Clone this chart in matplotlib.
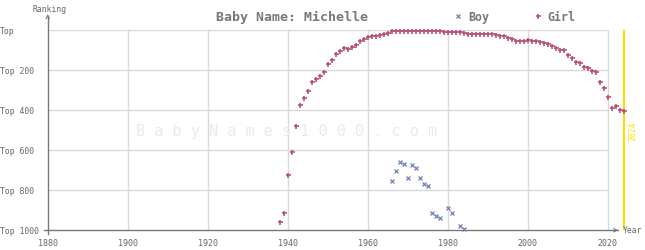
import matplotlib

matplotlib.use("Agg")
import matplotlib.pyplot as plt  # noqa: E402

# --- data (rank per year) ---
girl_years = list(range(1938, 2025))
girl_ranks = [
    960, 915, 725, 610, 480, 375, 340, 303, 258, 243,   # 1938-1947
    230, 210, 170, 150, 120, 105, 90, 95, 85, 75,       # 1948-1957
    55, 45, 35, 30, 30, 24, 19, 13, 3, 2,               # 1958-1967
    2, 2, 2, 2, 2, 3, 3, 5, 5, 5,                       # 1968-1977
    5, 10, 10, 10, 10, 10, 15, 20, 20, 20,              # 1978-1987
    20, 20, 20, 20, 25, 30, 30, 40, 45, 55,             # 1988-1997
    55, 55, 50, 55, 55, 60, 65, 70, 80, 90,             # 1998-2007
    100, 100, 125, 140, 160, 165, 185, 190, 205, 210,   # 2008-2017
    260, 290, 335, 390, 380, 400, 405,                  # 2018-2024
]

boy_years = [1966, 1967, 1968, 1969, 1970, 1971, 1972, 1973, 1974,
             1975, 1976, 1977, 1978, 1980, 1981, 1983, 1984]
boy_ranks = [755, 705, 660, 670, 740, 675, 690, 740, 770,
             780, 915, 930, 940, 890, 915, 980, 995]

x_ticks = [1880, 1900, 1920, 1940, 1960, 1980, 2000, 2020]
y_ticks = [0, 200, 400, 600, 800, 1000]
y_labels = ["Top", "Top 200", "Top 400", "Top 600", "Top 800", "Top 1000"]
current_year = 2024

# --- style ---
MONO = "DejaVu Sans Mono"
GIRL_C = "#b8507c"
BOY_C = "#6f80b8"
GRID_C = "#d9d9d9"
AXIS_C = "#777777"
TEXT_C = "#666666"
YELLOW = "#ffdd00"

W, H = 645, 250
X0 = 47.7          # pixel of 1880
PX_YEAR = 4.0      # pixels per year
Y_TOP = 30.3       # pixel of rank 0
Y_BOT = 230.3      # pixel of rank 1000

fig = plt.figure(figsize=(W / 100, H / 100), dpi=100)
ax = fig.add_axes([X0 / W, 1 - Y_BOT / H, (W - X0) / W, (Y_BOT - Y_TOP) / H])
ax.set_xlim(1880, 1880 + (W - X0) / PX_YEAR)
ax.set_ylim(1000, 0)
for s in ax.spines.values():
    s.set_visible(False)
ax.patch.set_alpha(0)

# grid
ax.hlines(y_ticks[:-1], 1880, 2020, color=GRID_C, lw=1, zorder=0)
ax.vlines(x_ticks[1:], 0, 1000, color=GRID_C, lw=1, zorder=0)

# watermark
ax.text(1939.6, 508, " ".join("BabyNames1000.com"), family=MONO,
        fontsize=11, color="#eaeaea", ha="center", va="center", zorder=0)

# axes lines with arrows
ax.plot([1879, 2022.5], [1000, 1000], color=AXIS_C, lw=1, clip_on=False)
ax.plot([1880, 1880], [1020, -70], color=AXIS_C, lw=1, clip_on=False)
ax.annotate("", xy=(2023.3, 1000), xytext=(2021.5, 1000),
            arrowprops=dict(arrowstyle="->", color=AXIS_C, lw=0.8,
                            mutation_scale=6), annotation_clip=False)
ax.annotate("", xy=(1880, -80), xytext=(1880, -60),
            arrowprops=dict(arrowstyle="->", color=AXIS_C, lw=0.8,
                            mutation_scale=6), annotation_clip=False)
ax.text(2023.8, 1002, "Year", family=MONO, fontsize=5.8, color=TEXT_C,
        ha="left", va="center")
ax.text(1880.4, -105, "Ranking", family=MONO, fontsize=5.8, color=TEXT_C,
        ha="center", va="center")

# ticks
ax.set_xticks(x_ticks)
ax.set_xticklabels([str(v) for v in x_ticks], family=MONO, fontsize=6,
                   color=TEXT_C)
ax.set_yticks(y_ticks)
ax.set_yticklabels(y_labels, family=MONO, fontsize=5.9, color=TEXT_C)
ax.tick_params(axis="x", length=0, pad=6)
ax.tick_params(axis="y", length=0, pad=X0 * 0.72)
for lab in ax.get_yticklabels():
    lab.set_horizontalalignment("left")

# current year marker
ax.vlines(current_year, 0, 1000, color=YELLOW, lw=1.5, zorder=1)
ax.text(current_year + 2.2, 505, str(current_year), family=MONO,
        fontsize=5.8, color=YELLOW, rotation=90, ha="center", va="center")

# data
boy_line, = ax.plot(boy_years, boy_ranks, linestyle="none", marker="x",
                    ms=2.6, mew=0.9, color=BOY_C, label="Boy", zorder=3,
                    clip_on=False)
girl_line, = ax.plot(girl_years, girl_ranks, linestyle="none", marker="+",
                     ms=3.6, mew=1.2, color=GIRL_C, label="Girl", zorder=3,
                     clip_on=False)

# title and legend
fig.text(292.5 / W, 1 - 17 / H, "Baby Name: Michelle", family=MONO,
         fontsize=9.5, fontweight="bold", color="#777777",
         ha="center", va="center")
leg = fig.legend(handles=[boy_line, girl_line], loc="center",
                 bbox_to_anchor=(515 / W, 1 - 17 / H), ncol=2, frameon=False,
                 handlelength=0.6, handletextpad=0.5, columnspacing=3.9,
                 prop=dict(family=MONO, size=8.4, weight="bold"))
for t in leg.get_texts():
    t.set_color("#777777")

fig.savefig("out.png", dpi=100)
